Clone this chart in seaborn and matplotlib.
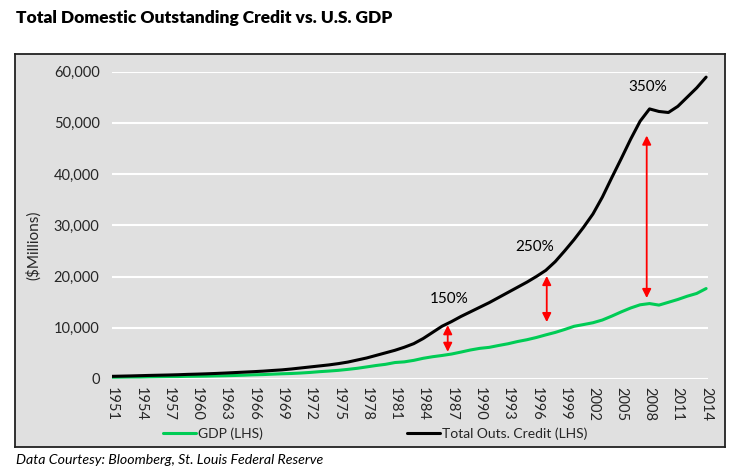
import numpy as np
import pandas as pd
import matplotlib
matplotlib.use("Agg")
import matplotlib.pyplot as plt
import seaborn as sns

years = list(range(1951, 2015))
gdp = [345, 368, 389, 391, 426, 450, 474, 482, 522, 543,
       563, 605, 638, 686, 743, 815, 862, 943, 1019, 1073,
       1165, 1280, 1429, 1549, 1689, 1878, 2086, 2357, 2632, 2863,
       3211, 3345, 3638, 4041, 4347, 4590, 4870, 5253, 5658, 5980,
       6174, 6539, 6879, 7309, 7664, 8100, 8609, 9089, 9661, 10285,
       10622, 10978, 11511, 12275, 13094, 13856, 14478, 14719, 14419, 14964,
       15518, 16155, 16692, 17650]
credit = [520, 560, 600, 650, 700, 740, 780, 830, 900, 950,
          1010, 1080, 1160, 1250, 1340, 1430, 1530, 1660, 1780, 1950,
          2150, 2350, 2550, 2750, 3000, 3300, 3700, 4100, 4600, 5100,
          5600, 6200, 6900, 7900, 9100, 10300, 11200, 12200, 13100, 14000,
          14900, 15900, 16900, 17900, 18900, 20000, 21200, 22900, 25000, 27200,
          29600, 32200, 35500, 39300, 43000, 46800, 50300, 52700, 52200, 52000,
          53200, 55000, 56800, 58900]

arrow_years = [1986.6, 1997.1, 2007.7]
arrow_tops = [10500, 20100, 47500]
arrow_bottoms = [5300, 11100, 15800]
ratio_labels = ["150%", "250%", "350%"]
ratio_x = [1986.8, 1995.8, 2007.8]
ratio_y = [15600, 25700, 56900]

df = pd.DataFrame({"Year": years, "GDP": gdp, "Credit": credit})

sns.set_theme(style="white")
plt.rcParams['font.family'] = ['Lato', 'DejaVu Sans']

fig = plt.figure(figsize=(7.41, 4.76), dpi=100)
W, H = 741, 476
# chart box as a background axes
bg = fig.add_axes([15 / W, 1 - 447 / H, 710 / W, (447 - 54) / H], zorder=-5)
bg.set_facecolor('#e0e0e0')
bg.set_xticks([])
bg.set_yticks([])
for s in bg.spines.values():
    s.set_edgecolor('#222222')
    s.set_linewidth(1.3)

ax = fig.add_axes([112 / W, 1 - 379 / H, (708 - 112) / W, (379 - 71.5) / H], zorder=1)
ax.patch.set_alpha(0)

sns.lineplot(data=df, x="Year", y="GDP", ax=ax, color='#00cc55', linewidth=2.2,
             label="GDP (LHS)", legend=False)
sns.lineplot(data=df, x="Year", y="Credit", ax=ax, color='black', linewidth=2.2,
             label="Total Outs. Credit (LHS)", legend=False)

ax.set_xlim(1951, 2014.2)
ax.set_ylim(0, 60000)
ax.set_yticks(range(0, 60001, 10000))
ax.set_yticklabels([f"{v:,}" for v in range(0, 60001, 10000)], fontsize=10.5)
ax.set_xticks(range(1951, 2015, 3))
ax.set_xticklabels([str(y) for y in range(1951, 2015, 3)], rotation=-90, fontsize=10.5)
ax.tick_params(axis='both', length=0, pad=9)
ax.tick_params(axis='x', pad=6)
ax.grid(axis='y', color='white', linewidth=1.5)
ax.set_axisbelow(True)
for s in ax.spines.values():
    s.set_visible(False)
ax.set_xlabel("")
ax.set_ylabel("($Millions)", fontsize=11, va='center')
ax.yaxis.set_label_coords(-0.131, 0.436)

for xa, yt, yb in zip(arrow_years, arrow_tops, arrow_bottoms):
    ax.annotate("", xy=(xa, yt), xytext=(xa, yb),
                arrowprops=dict(arrowstyle='<|-|>', color='#ff0000', lw=1.3,
                                mutation_scale=13, shrinkA=0, shrinkB=0))
for lbl, xx, yy in zip(ratio_labels, ratio_x, ratio_y):
    ax.text(xx, yy, lbl, ha='center', va='center', fontsize=11, color='black')

handles, labels = ax.get_legend_handles_labels()
anchors = [163, 407]
for h, l, xa in zip(handles, labels, anchors):
    fig.legend([h], [l], loc='center left', bbox_to_anchor=(xa / W, 1 - 434 / H),
               frameon=False, fontsize=10, handlelength=2.4, borderpad=0,
               borderaxespad=0, handletextpad=0.1)

fig.text(16 / W, 1 - 18 / H, "Total Domestic Outstanding Credit vs. U.S. GDP",
         fontsize=12.5, fontweight='heavy', ha='left', va='center', color='black')
fig.text(16 / W, 1 - 460 / H, "Data Courtesy: Bloomberg, St. Louis Federal Reserve",
         fontsize=10.2, style='italic', ha='left', va='center', color='black')

fig.savefig("out.png", dpi=100)
